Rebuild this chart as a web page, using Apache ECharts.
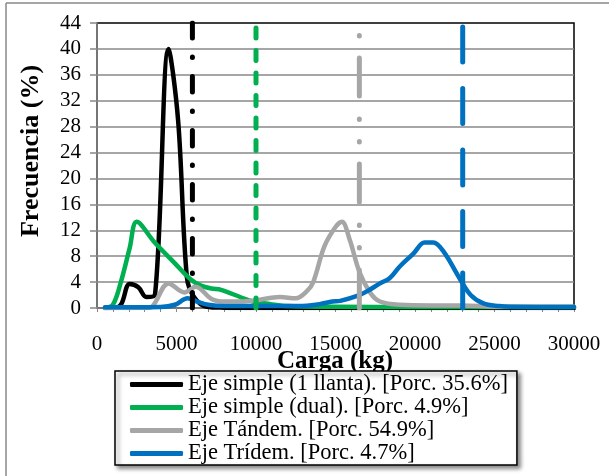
<!DOCTYPE html>
<html>
<head>
<meta charset="utf-8">
<script src="https://cdn.jsdelivr.net/npm/echarts@6/dist/echarts.min.js"></script>
<style>html,body{margin:0;padding:0;background:#fff;}#c{width:609px;height:476px;}</style>
</head>
<body>
<div id="c"></div>
<script>
// ---- data (kg, %) ----
const seriesNames = [
  'Eje simple (1 llanta). [Porc. 35.6%]',
  'Eje simple (dual). [Porc. 4.9%]',
  'Eje Tándem. [Porc. 54.9%]',
  'Eje Trídem. [Porc. 4.7%]'
];
const simpleX = [500, 1000, 1500, 2050, 2600, 3100, 3650, 4500, 5100, 5650, 6100, 6900, 8000, 10000, 15000, 20000, 25000, 30000];
const simpleY = [0, 0, 0.5, 3.7, 3.2, 1.7, 2.1, 40, 29, 4.8, 1.7, 0.2, 0.05, 0, 0, 0, 0, 0];
const dualX = [500, 1000, 1500, 2050, 2500, 3600, 4900, 5900, 6500, 7200, 7800, 9000, 9800, 10900, 12000, 15000, 20000, 25000, 30000];
const dualY = [0, 0.5, 4.0, 9.2, 13.3, 10.2, 6.9, 4.4, 3.5, 3.0, 2.8, 1.7, 1.0, 0.6, 0.3, 0.2, 0.15, 0.15, 0.15];
const tandemX = [500, 3000, 3500, 4500, 5500, 6200, 7200, 8000, 9000, 10000, 11500, 12500, 13200, 13600, 14300, 15000, 15400, 15900, 16500, 17200, 17800, 19000, 21000, 23000, 25000, 30000];
const tandemY = [0, 0, 0.3, 3.8, 2.4, 3.3, 1.4, 1.0, 1.0, 1.2, 1.7, 1.5, 2.6, 4.0, 9.5, 12.5, 13.3, 10.5, 5.6, 2.3, 1.0, 0.5, 0.4, 0.4, 0.2, 0.2];
const tridemX = [500, 4000, 4900, 5700, 6300, 7000, 8000, 10000, 12700, 14000, 14800, 15300, 16500, 17000, 17800, 18400, 19000, 19900, 20600, 21150, 21800, 22800, 23500, 24300, 25300, 26000, 30000];
const tridemY = [0.1, 0.15, 0.5, 1.5, 1.0, 0.5, 0.3, 0.3, 0.3, 0.6, 1.0, 1.1, 2.0, 2.6, 3.8, 4.6, 6.3, 8.4, 10.1, 10.1, 8.7, 4.6, 2.0, 0.7, 0.3, 0.2, 0.15];
const limitLoads = [6000, 10000, 16500, 23000];
const yTop = 44;
const xTickStep = 5000;
const yTickStep = 4;

const colors = ['#000000', '#00B050', '#A6A6A6', '#0070C0'];
const dashes = [
  [15.5, 19, 0.5, 19],
  [10, 12.5],
  [38, 22, 0.5, 22, 0.5, 23],
  [35, 26.5]
];
const xs = [simpleX, dualX, tandemX, tridemX];
const ys = [simpleY, dualY, tandemY, tridemY];

const font = 'Liberation Serif';
const series = [];
seriesNames.forEach((n, i) => {
  series.push({
    name: n, type: 'line', smooth: 0.35, showSymbol: false, symbol: 'none',
    data: xs[i].map((x, k) => [x, ys[i][k]]),
    lineStyle: { color: colors[i], width: 4.5, cap: 'round', join: 'round' },
    itemStyle: { color: colors[i] },
    z: 2 + i
  });
});
limitLoads.forEach((v, i) => {
  series.push({
    name: 'lim' + i, type: 'line', showSymbol: false, symbol: 'none', silent: true,
    data: [[v, 0], [v, yTop]],
    lineStyle: { color: colors[i], width: 5, type: dashes[i], cap: 'round' },
    z: 6
  });
});

const chart = echarts.init(document.getElementById('c'), null, { renderer: 'canvas' });
chart.setOption({
  animation: false,
  backgroundColor: '#fff',
  grid: { left: 97, right: 35, top: 23, bottom: 168, show: true, borderColor: '#000', borderWidth: 1.5 },
  xAxis: {
    type: 'value', min: 0, max: 30000, interval: xTickStep,
    axisLine: { show: true, lineStyle: { color: '#888', width: 1.5 } },
    axisTick: { show: true, length: 4, lineStyle: { color: '#888' } },
    minorTick: { show: true, splitNumber: 5, length: 4, lineStyle: { color: '#888' } },
    splitLine: { show: false },
    axisLabel: { fontFamily: font, fontSize: 21, color: '#000', margin: 26, formatter: v => String(v) }
  },
  yAxis: {
    type: 'value', min: 0, max: yTop, interval: yTickStep,
    axisLine: { show: true, lineStyle: { color: '#888', width: 1.5 } },
    axisTick: { show: true, length: 7, lineStyle: { color: '#888', width: 1.5 } },
    splitLine: { show: true, showMaxLine: false, showMinLine: false, lineStyle: { color: '#888', width: 1.5 } },
    axisLabel: { fontFamily: font, fontSize: 21, color: '#000', margin: 16, padding: [7, 0, 0, 0] }
  },
  legend: {
    data: seriesNames,
    orient: 'vertical', left: 115, top: 371,
    padding: [2, 9, 0, 15], itemGap: 0,
    itemWidth: 53, itemHeight: 5, icon: 'roundRect',
    backgroundColor: '#fff', borderColor: '#000', borderWidth: 1.5,
    shadowColor: 'rgba(0,0,0,0.45)', shadowBlur: 4, shadowOffsetX: 3, shadowOffsetY: 3,
    textStyle: { fontFamily: font, fontSize: 22.5, color: '#000', lineHeight: 20 },
    z: 10
  },
  graphic: [
    { type: 'line', shape: { x1: 6, y1: 3, x2: 609, y2: 3 }, style: { stroke: '#888', lineWidth: 1.5 } },
    { type: 'line', shape: { x1: 6, y1: 3, x2: 6, y2: 476 }, style: { stroke: '#888', lineWidth: 1.5 } },
    { type: 'text', x: 31, y: 151, rotation: Math.PI / 2, z: 1,
      style: { text: 'Frecuencia (%)', fontFamily: font, fontWeight: 'bold', fontSize: 26, fill: '#000', align: 'center', verticalAlign: 'middle' } },
    { type: 'text', x: 335, y: 362, z: 1,
      style: { text: 'Carga (kg)', fontFamily: font, fontWeight: 'bold', fontSize: 25, fill: '#000', align: 'center', verticalAlign: 'middle' } }
  ],
  series: series
});
</script>
</body>
</html>
